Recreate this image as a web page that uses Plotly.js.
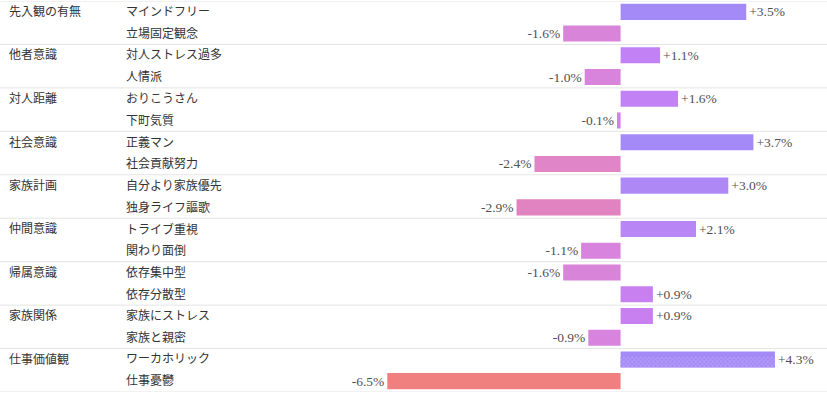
<!DOCTYPE html>
<html>
<head>
<meta charset="utf-8">
<script src="https://cdn.plot.ly/plotly-3.0.1.min.js"></script>
<style>html,body{margin:0;padding:0;background:#fff;}#chart{width:827px;height:393px;}</style>
</head>
<body>
<div id="chart"></div>
<script>
const groups = ["先入観の有無","他者意識","対人距離","社会意識","家族計画","仲間意識","帰属意識","家族関係","仕事価値観"];
const items = ["マインドフリー","立場固定観念","対人ストレス過多","人情派","おりこうさん","下町気質","正義マン","社会貢献努力","自分より家族優先","独身ライフ謳歌","トライブ重視","関わり面倒","依存集中型","依存分散型","家族にストレス","家族と親密","ワーカホリック","仕事憂鬱"];
const values = [3.5,-1.6,1.1,-1.0,1.6,-0.1,3.7,-2.4,3.0,-2.9,2.1,-1.1,-1.6,0.9,0.9,-0.9,4.3,-6.5];
const colors = ["#A48AF6","#D884D8","#C282F5","#D884DC","#C282F5","#D282E6","#A48AF6","#E085C8","#AE88F5","#E083C0","#B886F5","#D884DE","#D884D8","#C880F0","#C880F0","#D884DE","#A48AF6","#F08080"];
const hatched = ["ワーカホリック"];

const rowIdx = items.map(function(_, i){ return i; });
const labels = values.map(function(v){ return (v > 0 ? "+" : "") + v.toFixed(1) + "%"; });

const trace = {
  type: "bar",
  orientation: "h",
  x: values,
  y: rowIdx,
  width: 0.74,
  marker: {color: colors, line: {width: 0}},
  text: labels,
  textposition: "outside",
  constraintext: "none",
  cliponaxis: false,
  textfont: {family: "Liberation Serif, serif", size: 13.5, color: "#505050"},
  hoverinfo: "skip"
};

const hIdx = rowIdx.filter(function(i){ return hatched.indexOf(items[i]) >= 0; });
const hatchTrace = {
  type: "bar",
  orientation: "h",
  x: hIdx.map(function(i){ return values[i]; }),
  y: hIdx,
  width: 0.47,
  offset: -0.11,
  marker: {
    color: "#A48AF6",
    line: {width: 0},
    pattern: {shape: "x", fgcolor: "#D6C8FA", bgcolor: "#A48AF6", size: 3, solidity: 0.35, fillmode: "overlay"}
  },
  hoverinfo: "skip"
};

const shapes = [];
for (let g = 0; g <= groups.length; g++) {
  shapes.push({type: "line", xref: "paper", yref: "y", x0: 0, x1: 1, y0: g * 2 - 0.5, y1: g * 2 - 0.5, line: {color: "#E4E4E4", width: 1}});
}

const annotations = [];
groups.forEach(function(g, i){
  annotations.push({xref: "paper", yref: "y", x: 7/827, y: i * 2, text: g, showarrow: false, xanchor: "left", yanchor: "middle",
    font: {family: "Liberation Serif, Noto Sans CJK JP", size: 12, color: "#333"}});
});
items.forEach(function(t, i){
  annotations.push({xref: "paper", yref: "y", x: 124/827, y: i, text: t, showarrow: false, xanchor: "left", yanchor: "middle",
    font: {family: "Liberation Serif, Noto Sans CJK JP", size: 12, color: "#333"}});
});

const layout = {
  width: 827, height: 393,
  margin: {l: 0, r: 0, t: 1, b: 1, pad: 0},
  paper_bgcolor: "#fff", plot_bgcolor: "#fff",
  showlegend: false,
  barmode: "overlay",
  xaxis: {range: [-17.29, 5.75], visible: false, fixedrange: true, zeroline: false},
  yaxis: {range: [17.5, -0.5], visible: false, fixedrange: true},
  shapes: shapes,
  annotations: annotations
};

Plotly.newPlot("chart", [trace, hatchTrace], layout, {displayModeBar: false, staticPlot: true});
</script>
</body>
</html>
